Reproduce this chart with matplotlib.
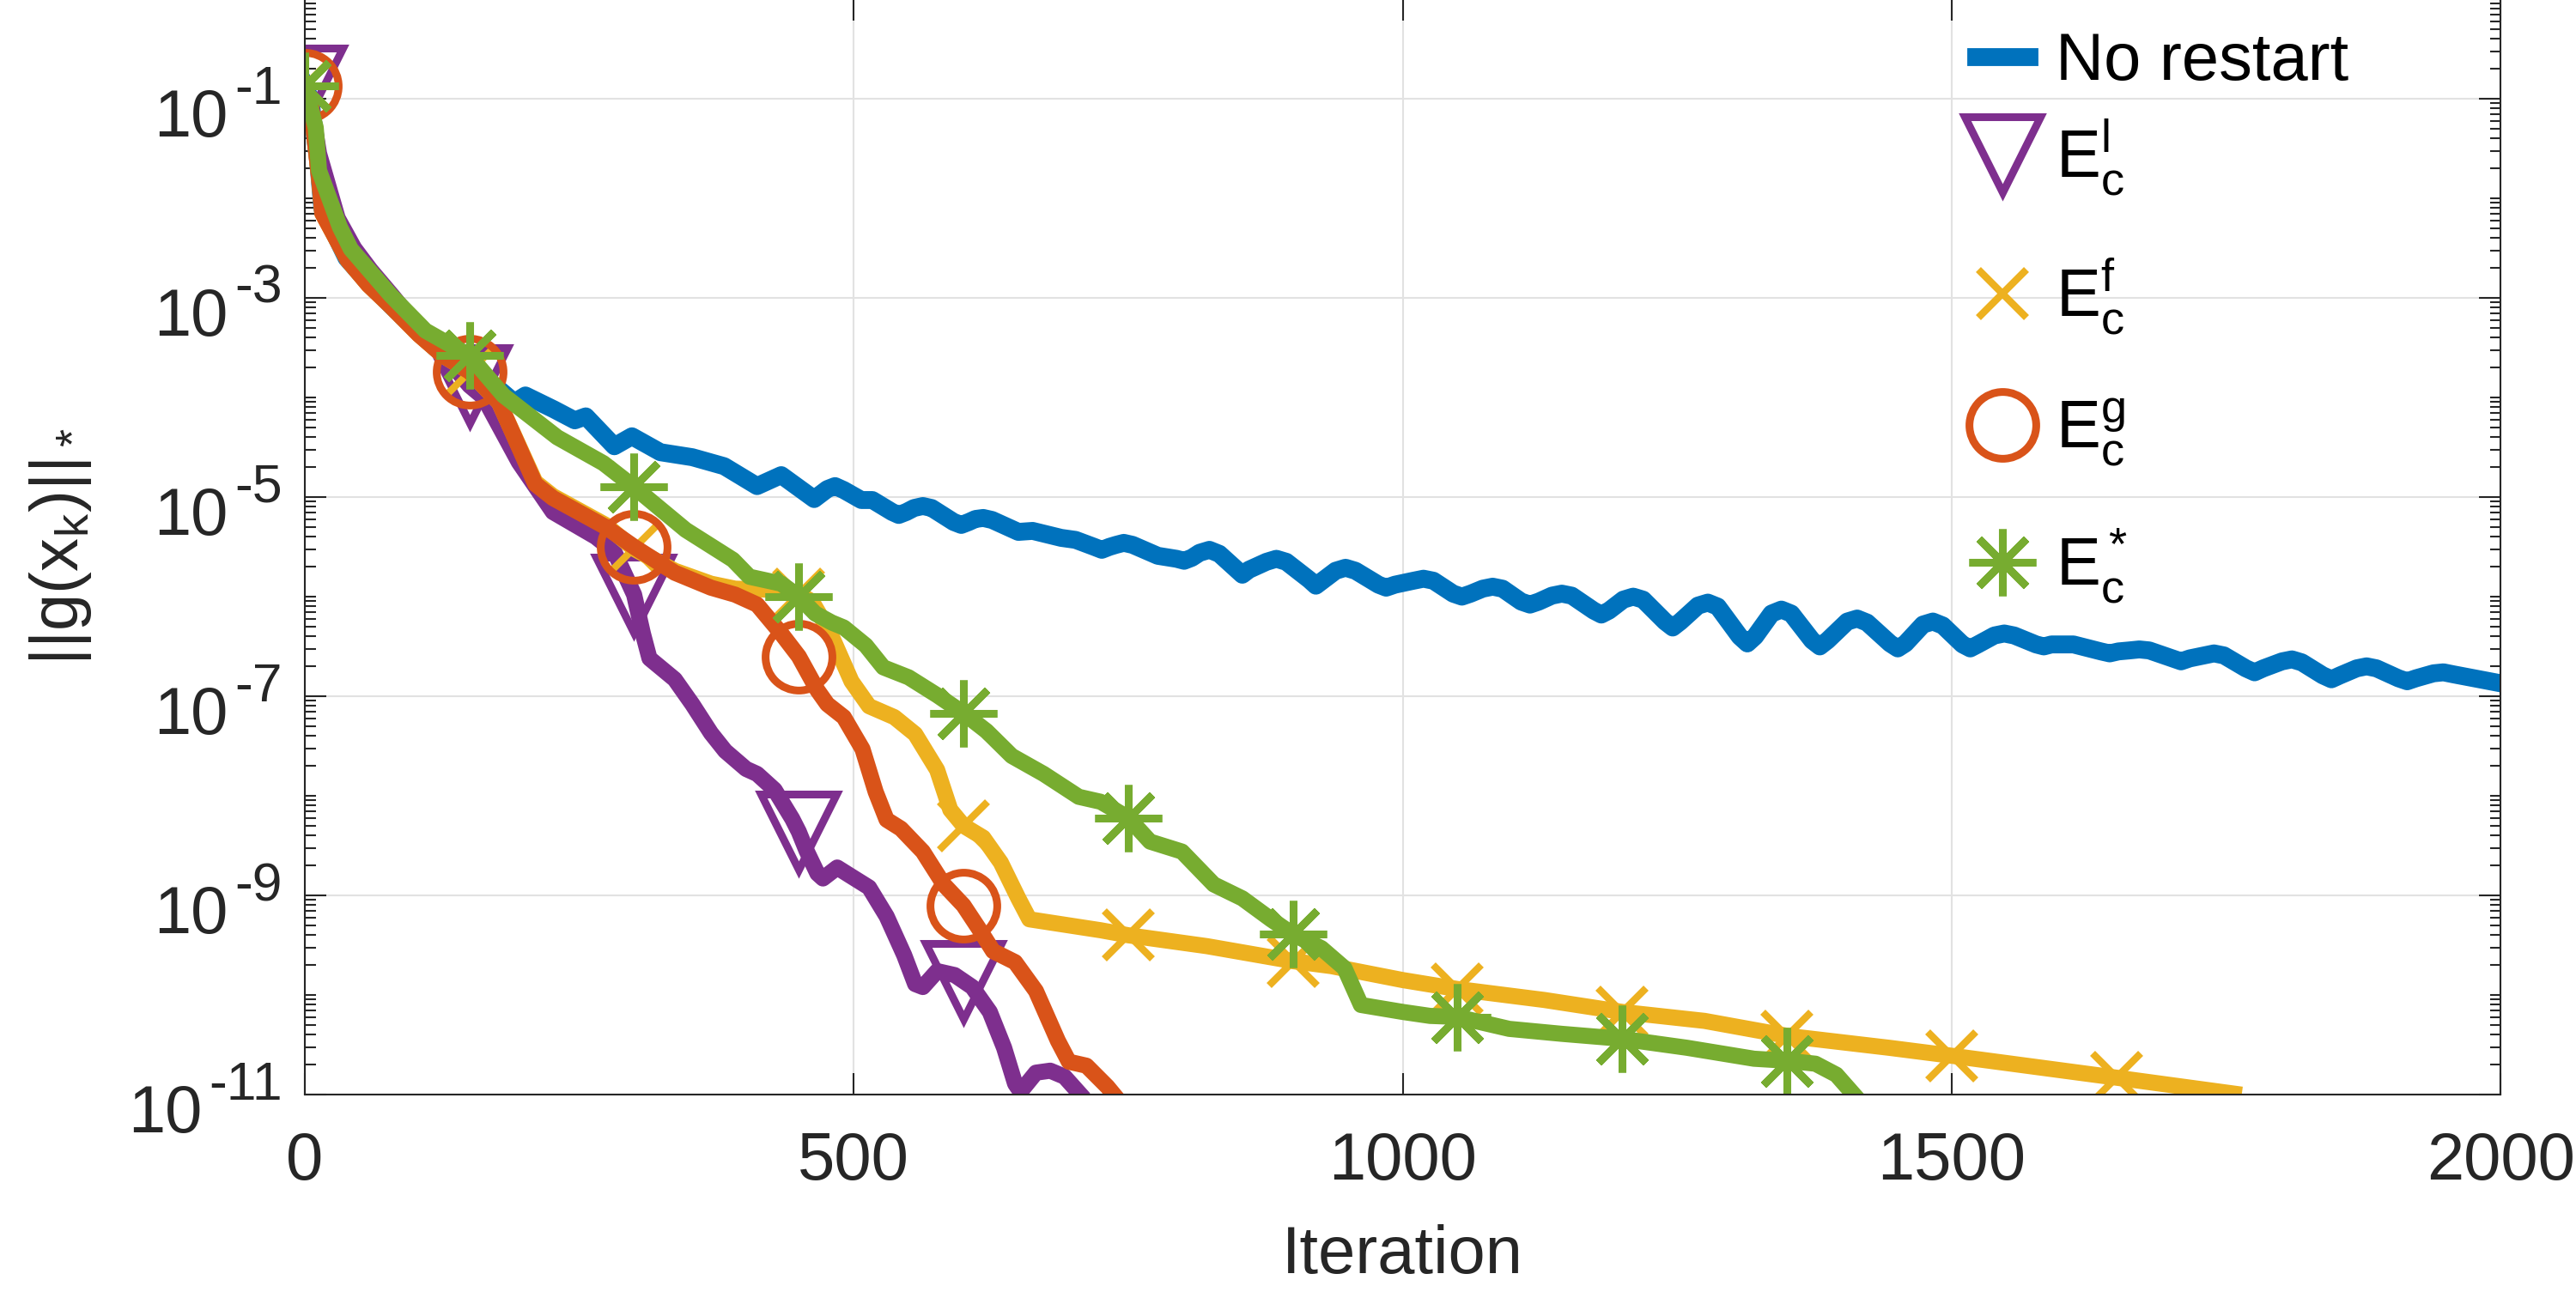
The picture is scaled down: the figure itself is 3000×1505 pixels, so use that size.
import numpy as np
import matplotlib
matplotlib.use('Agg')
import matplotlib.pyplot as plt
from matplotlib.lines import Line2D
from matplotlib.ticker import FixedLocator, LogLocator, NullFormatter
from matplotlib.transforms import blended_transform_factory, offset_copy

plt.rcParams['font.family'] = ['Liberation Sans', 'DejaVu Sans']
plt.rcParams['mathtext.fontset'] = 'custom'
plt.rcParams['mathtext.rm'] = 'Liberation Sans'
plt.rcParams['mathtext.it'] = 'Liberation Sans'
plt.rcParams['mathtext.bf'] = 'Liberation Sans:bold'

# data (iteration, log10 of ||g(x_k)||_*)
it_none = [0, 5, 12, 16, 38, 58, 78, 104, 126, 150, 175, 191, 201, 227, 246, 256, 282, 298,
           324, 353, 382, 412, 434, 464, 476, 483, 491, 507, 517, 535, 541, 548, 555, 563,
           571, 591, 598, 605, 611, 618, 626, 650, 663, 689, 702, 719, 726, 733, 739, 746,
           754, 777, 794, 801, 808, 815, 824, 833, 848, 854, 860, 876, 885, 894, 915, 921,
           927, 939, 948, 957, 978, 985, 993, 1010, 1019, 1028, 1046, 1054, 1062, 1073, 1082,
           1091, 1108, 1116, 1124, 1136, 1145, 1154, 1174, 1181, 1188, 1201, 1210, 1219,
           1239, 1246, 1253, 1269, 1278, 1287, 1307, 1314, 1321, 1336, 1345, 1354, 1373,
           1380, 1387, 1405, 1414, 1423, 1444, 1451, 1458, 1474, 1483, 1492, 1510, 1517,
           1524, 1539, 1548, 1557, 1577, 1584, 1591, 1611, 1636, 1644, 1652, 1662, 1671,
           1680, 1701, 1709, 1717, 1730, 1739, 1748, 1768, 1776, 1784, 1801, 1810, 1819,
           1838, 1846, 1854, 1869, 1878, 1887, 1907, 1915, 1923, 1939, 1948, 1957, 2000]
lg_none = [-0.87, -1.0, -1.6, -2.1, -2.6, -2.85, -3.07, -3.35, -3.57, -3.74, -3.90, -4.05,
           -3.98, -4.12, -4.23, -4.19, -4.49, -4.39, -4.55, -4.60, -4.69, -4.89, -4.78, -5.02,
           -4.92, -4.89, -4.93, -5.03, -5.03, -5.15, -5.18, -5.15, -5.11, -5.09, -5.11, -5.25,
           -5.28, -5.25, -5.22, -5.21, -5.23, -5.35, -5.34, -5.41, -5.43, -5.50, -5.53, -5.50,
           -5.48, -5.46, -5.48, -5.59, -5.62, -5.64, -5.61, -5.56, -5.53, -5.57, -5.72, -5.78,
           -5.73, -5.65, -5.62, -5.65, -5.83, -5.89, -5.84, -5.74, -5.71, -5.74, -5.88, -5.91,
           -5.88, -5.84, -5.82, -5.84, -5.97, -6.00, -5.97, -5.92, -5.90, -5.92, -6.05, -6.08,
           -6.05, -5.99, -5.97, -5.99, -6.14, -6.18, -6.14, -6.03, -6.00, -6.03, -6.25, -6.31,
           -6.25, -6.09, -6.06, -6.10, -6.40, -6.47, -6.40, -6.17, -6.13, -6.17, -6.44, -6.50,
           -6.44, -6.25, -6.22, -6.26, -6.47, -6.52, -6.47, -6.28, -6.25, -6.29, -6.48, -6.52,
           -6.48, -6.39, -6.37, -6.39, -6.48, -6.50, -6.48, -6.48, -6.55, -6.57, -6.55, -6.54,
           -6.53, -6.54, -6.62, -6.65, -6.62, -6.59, -6.57, -6.59, -6.72, -6.76, -6.72, -6.65,
           -6.63, -6.66, -6.79, -6.83, -6.79, -6.72, -6.70, -6.72, -6.82, -6.85, -6.82, -6.77,
           -6.76, -6.78, -6.87]

it_l = [0, 5, 13, 30, 45, 60, 80, 100, 125, 150, 163, 195, 226, 265, 282, 300, 308, 314, 337,
        353, 370, 383, 402, 412, 428, 444, 450, 457, 467, 472, 485, 498, 514, 530, 546, 556,
        563, 576, 592, 600, 608, 624, 637, 647, 652, 666, 679, 692, 705]
lg_l = [-0.87, -1.0, -1.55, -2.2, -2.5, -2.72, -2.98, -3.25, -3.55, -3.88, -4.0, -4.65, -5.15,
        -5.40, -5.55, -5.98, -6.37, -6.62, -6.83, -7.08, -7.37, -7.55, -7.73, -7.78, -7.94,
        -8.23, -8.36, -8.55, -8.78, -8.83, -8.72, -8.81, -8.92, -9.21, -9.60, -9.89, -9.92,
        -9.76, -9.80, -9.86, -9.92, -10.17, -10.53, -10.89, -10.97, -10.78, -10.76, -10.82,
        -10.98]

it_f = [0, 6, 13, 16, 39, 58, 78, 104, 126, 150, 177, 210, 226, 274, 300, 337, 370, 392, 421,
        450, 462, 478, 498, 514, 537, 556, 576, 588, 600, 618, 634, 650, 660, 725, 750, 822,
        900, 935, 1000, 1050, 1129, 1200, 1275, 1350, 1443, 1500, 1650, 1757]
lg_f = [-0.87, -1.1, -1.79, -2.15, -2.62, -2.87, -3.08, -3.37, -3.58, -3.74, -4.05, -4.85,
        -4.99, -5.28, -5.52, -5.74, -5.87, -5.92, -5.93, -5.97, -6.05, -6.35, -6.85, -7.10,
        -7.21, -7.38, -7.74, -8.14, -8.30, -8.42, -8.67, -9.03, -9.24, -9.35, -9.40, -9.51,
        -9.66, -9.71, -9.85, -9.94, -10.05, -10.17, -10.26, -10.41, -10.53, -10.61, -10.83,
        -10.99]

it_g = [0, 6, 13, 16, 39, 58, 78, 104, 126, 150, 177, 210, 226, 274, 300, 337, 370, 392, 412,
        434, 450, 467, 476, 491, 508, 520, 530, 543, 563, 582, 600, 615, 627, 647, 666, 686,
        696, 712, 731, 737]
lg_g = [-0.87, -1.1, -1.79, -2.15, -2.62, -2.87, -3.08, -3.37, -3.58, -3.74, -4.05, -4.87,
        -5.01, -5.30, -5.50, -5.76, -5.91, -5.98, -6.08, -6.37, -6.60, -6.94, -7.08, -7.21,
        -7.53, -7.96, -8.24, -8.33, -8.56, -8.89, -9.10, -9.35, -9.56, -9.67, -9.96, -10.46,
        -10.67, -10.71, -10.92, -11.0]

it_s = [0, 10, 13, 32, 42, 78, 110, 150, 181, 230, 272, 300, 347, 390, 405, 434, 450, 465,
        480, 491, 511, 527, 550, 576, 600, 621, 644, 673, 705, 725, 750, 770, 799, 828, 854,
        880, 900, 926, 947, 962, 1000, 1025, 1050, 1097, 1145, 1200, 1259, 1320, 1350, 1376,
        1395, 1411]
lg_s = [-0.87, -1.29, -1.72, -2.29, -2.51, -2.97, -3.33, -3.58, -3.98, -4.40, -4.66, -4.90,
        -5.33, -5.63, -5.80, -5.87, -6.00, -6.17, -6.26, -6.31, -6.49, -6.71, -6.81, -6.99,
        -7.17, -7.35, -7.60, -7.78, -8.01, -8.06, -8.22, -8.46, -8.56, -8.89, -9.03, -9.24,
        -9.39, -9.53, -9.73, -10.10, -10.17, -10.21, -10.22, -10.34, -10.39, -10.44, -10.53,
        -10.64, -10.66, -10.69, -10.80, -11.0]

y_exps = [-11, -9, -7, -5, -3, -1]
x_ticks = [0, 500, 1000, 1500, 2000]

blue = '#0072BD'
purple = '#7E2F8E'
yellow = '#EDB120'
orange = '#D95319'
green = '#77AC30'

fs = 56
lw = 13.5


def marks(it):
    return [i for i, v in enumerate(it) if v % 150 == 0]


fig = plt.figure(figsize=(30, 15.05), dpi=100)
ax = fig.add_axes([0.1183, 0.1528, 0.8524, 0.8479])

ax.plot(it_none, 10.0 ** np.array(lg_none), color=blue, lw=15, solid_joinstyle='round')
ax.plot(it_l, 10.0 ** np.array(lg_l), color=purple, lw=lw, solid_joinstyle='round',
        marker='v', ms=63, mfc='none', mec=purple, mew=6.5, markevery=marks(it_l))
ax.plot(it_f, 10.0 ** np.array(lg_f), color=yellow, lw=lw, solid_joinstyle='round',
        marker='x', ms=40, mec=yellow, mew=6, markevery=marks(it_f))
ax.plot(it_g, 10.0 ** np.array(lg_g), color=orange, lw=lw, solid_joinstyle='round',
        marker='o', ms=56, mfc='none', mec=orange, mew=6.5, markevery=marks(it_g))
ax.plot(it_s, 10.0 ** np.array(lg_s), color=green, lw=lw, solid_joinstyle='round',
        marker=(8, 2, 0), ms=56, mec=green, mew=6.5, markevery=marks(it_s))

ax.set_yscale('log')
ax.set_xlim(0, 2000)
ax.set_ylim(1e-11, 1)
ax.xaxis.set_major_locator(FixedLocator(x_ticks))
ax.yaxis.set_major_locator(FixedLocator([10.0 ** k for k in y_exps]))
ax.yaxis.set_major_formatter(NullFormatter())
ax.yaxis.set_minor_locator(LogLocator(base=10, subs=np.arange(1, 10), numticks=200))
ax.yaxis.set_minor_formatter(NullFormatter())

ax.grid(True, which='major', color='#e2e2e2', lw=1.5)
ax.set_axisbelow(True)
ax.tick_params(which='both', direction='in', top=True, right=True, width=1.5,
               colors='#262626', labelsize=fs)
ax.tick_params(which='major', length=18)
ax.tick_params(which='minor', length=9)
ax.tick_params(axis='x', pad=30)
for s in ax.spines.values():
    s.set_color('#262626')
    s.set_linewidth(1.5)
ax.spines['top'].set_visible(False)

# y tick labels drawn MATLAB style: "10" with a raised exponent
ytrans = blended_transform_factory(ax.transAxes, ax.transData)
for k in y_exps:
    et = ax.text(0, 10.0 ** k, '-%d' % -k, fontsize=45, color='#262626', ha='right',
                 va='baseline', clip_on=False,
                 transform=offset_copy(ytrans, fig=fig, x=-26, y=-6, units='dots'))
    ax.annotate('10', xy=(0, 0), xycoords=et, xytext=(-8, -25),
                textcoords='offset pixels', ha='right', va='baseline',
                fontsize=fs, color='#262626', annotation_clip=False)

ax.set_xlabel('Iteration', fontsize=fs, color='#262626')
ax.xaxis.set_label_coords(0.5, -0.118)
ax.set_ylabel(r'$\mathregular{||g(x_k)||_*}$', fontsize=fs, color='#262626')
ax.yaxis.set_label_coords(-0.096, 0.5)

h_none = [Line2D([], [], color=blue, lw=15)]
h_marks = [
    Line2D([], [], ls='none', marker='v', ms=63, mfc='none', mec=purple, mew=6.5),
    Line2D([], [], ls='none', marker='x', ms=40, mec=yellow, mew=6),
    Line2D([], [], ls='none', marker='o', ms=56, mfc='none', mec=orange, mew=6.5),
    Line2D([], [], ls='none', marker=(8, 2, 0), ms=56, mec=green, mew=6.5),
]
labels = [r'$\mathregular{E_c^l}$', r'$\mathregular{E_c^f}$',
          r'$\mathregular{E_c^g}$', r'$\mathregular{E_c^*}$']
leg_kw = dict(loc='upper left', frameon=False, fontsize=fs, handlelength=0.8,
              handletextpad=0.4, borderpad=0, borderaxespad=0)
fig.legend(h_none, ['No restart'], bbox_to_anchor=(0.767, 0.976), **leg_kw)
fig.legend(h_marks, labels, bbox_to_anchor=(0.767, 0.909), labelspacing=0.88, **leg_kw)

fig.savefig('out.png', dpi=100)
